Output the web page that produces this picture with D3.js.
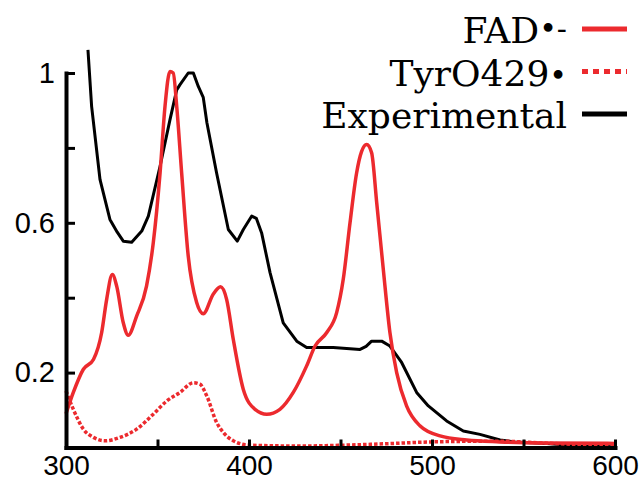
<!DOCTYPE html>
<html>
<head>
<meta charset="utf-8">
<script src="https://cdn.jsdelivr.net/npm/d3@7"></script>
<style>
  body { margin: 0; background: #fff; }
  svg { display: block; }
</style>
</head>
<body>
<div id="chart-area"></div>
<script>
// spectra: [wavelength nm, absorbance]
const fadRadical = [
  [300, 0.09], [304, 0.147], [309.5, 0.209], [315, 0.235], [319.5, 0.307], [322.2, 0.395],
  [325.3, 0.462], [327.7, 0.431], [331.3, 0.333], [334, 0.3], [338.6, 0.351], [344, 0.431],
  [347.7, 0.547], [351.4, 0.733], [354.1, 0.911], [356.8, 1.004], [358.6, 1.0], [360.5, 0.911],
  [363.2, 0.733], [366.8, 0.511], [371.4, 0.387], [375, 0.357], [380.5, 0.41], [384.5, 0.429],
  [387.8, 0.395], [391.4, 0.289], [396.9, 0.155], [403.3, 0.102], [409.7, 0.089], [416.9, 0.102],
  [424.2, 0.147], [431.5, 0.218], [436.1, 0.271], [442.5, 0.307], [447.9, 0.36], [451.5, 0.449],
  [455.2, 0.6], [458.8, 0.733], [461.5, 0.79], [464.3, 0.809], [467, 0.787], [469.8, 0.653],
  [473.4, 0.475], [477, 0.307], [480.7, 0.2], [486.1, 0.111], [493.4, 0.058], [504.4, 0.031],
  [519, 0.02], [537, 0.015], [560, 0.012], [600, 0.011]
]

const tyrRadical = [
  [300, 0.151], [304, 0.102], [309.5, 0.049], [315, 0.027], [321.3, 0.018], [329.5, 0.027],
  [338.6, 0.049], [347.7, 0.089], [355, 0.124], [362.3, 0.147], [369.6, 0.173], [373.2, 0.169],
  [376.9, 0.138], [382.3, 0.067], [386, 0.04], [391.4, 0.018], [400.5, 0.006], [428, 0.004],
  [450, 0.006], [475, 0.01], [500, 0.015], [537, 0.017], [560, 0.012], [600, 0.004]
]

const experimental = [
  [312, 1.062], [314, 0.911], [318.6, 0.715], [324, 0.609], [328, 0.575], [331.3, 0.551],
  [335.9, 0.548], [341.4, 0.578], [345, 0.618], [351.4, 0.751], [356.8, 0.875], [360.5, 0.955],
  [362.3, 0.969], [366.8, 1.0], [369.6, 1.0], [372.3, 0.964], [375, 0.935], [377, 0.867],
  [382.3, 0.733], [388.7, 0.582], [393.6, 0.551], [396.9, 0.582], [401.5, 0.618], [404, 0.612],
  [406.9, 0.573], [411.5, 0.467], [418.7, 0.333], [426.1, 0.284], [431.5, 0.267], [446, 0.267],
  [460.7, 0.262], [464, 0.27], [467, 0.284], [472.5, 0.284], [477, 0.271], [483.4, 0.227],
  [491.6, 0.147], [498, 0.111], [508, 0.071], [517.1, 0.044], [526.2, 0.035], [537.2, 0.02],
  [545, 0.015], [562.7, 0.011], [580, 0.004], [600, 0.002]
]

const xTicks = [300, 350, 400, 450, 500, 550, 600]
const xLabels = [300, 400, 500, 600]
const yTicks = [0.2, 0.4, 0.6, 0.8, 1]
const yLabels = [0.2, 0.6, 1]

const seriesNames = ["FAD•-", "TyrO429•", "Experimental"]

const RED = "#ec2a2e"
const WIDTH = 641
const HEIGHT = 481

const svg = d3.select("#chart-area").append("svg")
  .attr("width", WIDTH)
  .attr("height", HEIGHT)

svg.append("rect")
  .attr("width", WIDTH)
  .attr("height", HEIGHT)
  .attr("fill", "#fff")

const x = d3.scaleLinear()
  .domain([300, 600])
  .range([66, 615])

const y = d3.scaleLinear()
  .domain([0, 1])
  .range([447.5, 73])

// curves first, axes drawn on top
const smooth = d3.line()
  .x(d => x(d[0]))
  .y(d => y(d[1]))
  .curve(d3.curveMonotoneX)

const plain = d3.line()
  .x(d => x(d[0]))
  .y(d => y(d[1]))

svg.append("path")
  .attr("d", plain(experimental))
  .attr("fill", "none")
  .attr("stroke", "#000")
  .attr("stroke-width", 3)
  .attr("stroke-linejoin", "round")

svg.append("path")
  .attr("d", smooth(tyrRadical))
  .attr("fill", "none")
  .attr("stroke", RED)
  .attr("stroke-width", 3.5)
  .attr("stroke-dasharray", "3.5,2")

svg.append("path")
  .attr("d", smooth(fadRadical))
  .attr("fill", "none")
  .attr("stroke", RED)
  .attr("stroke-width", 3.5)

// axes
const xAxisCall = d3.axisBottom(x)
  .tickValues(xTicks)
  .tickSizeInner(-8)
  .tickSizeOuter(0)
  .tickPadding(8)
  .tickFormat(d => xLabels.includes(d) ? d : "")

const xAxis = svg.append("g")
  .attr("transform", `translate(0, ${y(0)})`)
  .call(xAxisCall)
xAxis.attr("font-size", 28).attr("font-family", "Liberation Sans, Arial, sans-serif")
xAxis.select(".domain").attr("stroke-width", 4).attr("stroke-linecap", "square")
xAxis.selectAll(".tick line").attr("stroke-width", 3)
xAxis.selectAll("text").attr("fill", "#000")

const yAxisCall = d3.axisLeft(y)
  .tickValues(yTicks)
  .tickSizeInner(-9)
  .tickSizeOuter(0)
  .tickPadding(11)
  .tickFormat(d => yLabels.includes(d) ? d : "")

const yAxis = svg.append("g")
  .attr("transform", `translate(${x(300)}, 0)`)
  .call(yAxisCall)
yAxis.attr("font-size", 29).attr("font-family", "Liberation Sans, Arial, sans-serif")
yAxis.select(".domain").attr("stroke-width", 4).attr("stroke-linecap", "square")
yAxis.selectAll(".tick line").attr("stroke-width", 3)
yAxis.selectAll("text").attr("fill", "#000")

// legend
const legendStyles = [
  { color: RED, dash: null },
  { color: RED, dash: "6,5" },
  { color: "#000", dash: null }
]

const legend = svg.append("g")

seriesNames.forEach((name, i) => {
  const row = legend.append("g")
    .attr("transform", `translate(0, ${43 + i * 42.5})`)
  const label = row.append("text")
    .attr("x", 567)
    .attr("y", 0)
    .attr("text-anchor", "end")
    .attr("font-family", "DejaVu Serif, serif")
    .attr("font-size", 36)
    .attr("fill", "#000")
  // radical marks are set a little smaller, the anion one raised
  const cut = name.indexOf("•")
  if (cut < 0) {
    label.text(name)
  } else {
    label.append("tspan").text(name.slice(0, cut))
    const mark = name.slice(cut)
    label.append("tspan")
      .attr("font-size", 30)
      .attr("dy", mark.length > 1 ? -4 : 0)
      .text(mark)
  }
  row.append("line")
    .attr("x1", 582)
    .attr("x2", 627)
    .attr("y1", -14)
    .attr("y2", -14)
    .attr("stroke", legendStyles[i].color)
    .attr("stroke-width", 5)
    .attr("stroke-dasharray", legendStyles[i].dash)
})
</script>
</body>
</html>
